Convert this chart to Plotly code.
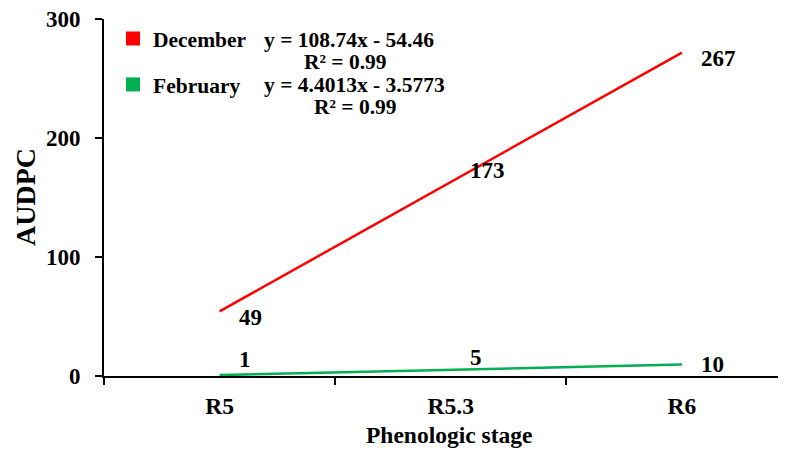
import plotly.graph_objects as go

# ---- data ----
stages = ["R5", "R5.3", "R6"]
dec_values = [49, 173, 267]
feb_values = [1, 5, 10]
dec_trend = [54.3, 163.0, 271.8]
feb_trend = [0.8, 5.2, 9.6]
dec_eq = "y = 108.74x - 54.46"
feb_eq = "y = 4.4013x - 3.5773"
r2_text = "R² = 0.99"
y_ticks = [0, 100, 200, 300]

RED = "#FF0000"
GREEN = "#00B050"
FONT = "Liberation Serif"

OFF = 8  # page body margin
W, H = 786 - OFF, 452 - OFF
L, R, T, B = 104 - OFF, 0, 19 - OFF, 76
PW, PH = W - L - R, H - T - B


def pxx(px):
    return (px - OFF - L) / PW


def pxy(py):
    return (H - B - (py - OFF)) / PH


idx = list(range(len(stages)))

fig = go.Figure()
fig.add_trace(go.Scatter(x=idx, y=dec_trend, mode="lines",
                         line=dict(color=RED, width=2.5), showlegend=False, hoverinfo="skip"))
fig.add_trace(go.Scatter(x=idx, y=feb_trend, mode="lines",
                         line=dict(color=GREEN, width=2.5), showlegend=False, hoverinfo="skip"))
# legend entries
fig.add_trace(go.Scatter(x=[None], y=[None], mode="markers", name="December", legendgroup="a",
                         marker=dict(symbol="square", size=14, color=RED)))
fig.add_trace(go.Scatter(x=[None], y=[None], mode="markers", name="February", legendgroup="b",
                         marker=dict(symbol="square", size=14, color=GREEN)))
# axis for category labels
fig.add_trace(go.Scatter(x=idx, y=[None] * len(idx), xaxis="x2", showlegend=False, hoverinfo="skip"))

annotations = []
bold = lambda s: "<b>" + s + "</b>"

dec_yshift = [0, 0, 0]
feb_yshift = [15, 13, 0]
lblfont = dict(family=FONT, size=23, color="black")
for i, v in enumerate(dec_values):
    annotations.append(dict(x=idx[i], y=v, xref="x", yref="y", text=bold(str(v)),
                            showarrow=False, xanchor="left", yanchor="middle", xshift=17,
                            yshift=dec_yshift[i], font=lblfont))
for i, v in enumerate(feb_values):
    annotations.append(dict(x=idx[i], y=v, xref="x", yref="y", text=bold(str(v)),
                            showarrow=False, xanchor="left", yanchor="middle", xshift=17,
                            yshift=feb_yshift[i], font=lblfont))

# equations
eqfont = dict(family=FONT, size=21.5, color="black")
annotations += [
    dict(x=pxx(262), y=pxy(40), xref="paper", yref="paper", text=bold(dec_eq), showarrow=False,
         xanchor="left", yanchor="middle", font=eqfont),
    dict(x=pxx(345), y=pxy(62), xref="paper", yref="paper", text=bold(r2_text), showarrow=False,
         xanchor="center", yanchor="middle", font=eqfont),
    dict(x=pxx(262), y=pxy(85), xref="paper", yref="paper", text=bold(feb_eq), showarrow=False,
         xanchor="left", yanchor="middle", font=eqfont),
    dict(x=pxx(355), y=pxy(107), xref="paper", yref="paper", text=bold(r2_text), showarrow=False,
         xanchor="center", yanchor="middle", font=eqfont),
    # axis titles
    dict(x=pxx(449), y=pxy(435), xref="paper", yref="paper", text=bold("Phenologic stage"),
         showarrow=False, xanchor="center", yanchor="middle",
         font=dict(family=FONT, size=23.5, color="black")),
    dict(x=pxx(25), y=pxy(197), xref="paper", yref="paper", text=bold("AUDPC"), textangle=-90,
         showarrow=False, xanchor="center", yanchor="middle",
         font=dict(family=FONT, size=28, color="black")),
]

xrange = [-0.5, 2.45]
fig.update_layout(
    width=W, height=H,
    margin=dict(l=L, r=R, t=T, b=B, pad=0),
    paper_bgcolor="white", plot_bgcolor="white",
    font=dict(family=FONT, color="black"),
    showlegend=True,
    legend=dict(x=pxx(113), y=pxy(18), xanchor="left", yanchor="top",
                bgcolor="rgba(0,0,0,0)", tracegroupgap=15, itemwidth=30,
                font=dict(family=FONT, size=21.5, color="black", weight="bold")),
    xaxis=dict(range=xrange, tickmode="array", tickvals=[-0.5, 0.5, 1.5, 2.5],
               ticktext=["", "", "", ""], ticks="outside", ticklen=7, tickwidth=2,
               tickcolor="black", showline=True, linewidth=2, linecolor="black",
               showgrid=False, zeroline=False),
    xaxis2=dict(range=xrange, overlaying="x", side="bottom", tickmode="array",
                tickvals=idx, ticktext=[bold(s) for s in stages], ticks="outside",
                ticklen=9, tickcolor="rgba(0,0,0,0)", showline=False, showgrid=False,
                zeroline=False, tickfont=dict(family=FONT, size=23.5, color="black")),
    yaxis=dict(range=[0, 300], tickmode="array", tickvals=y_ticks,
               ticktext=[bold(str(t)) for t in y_ticks], ticks="outside", ticklen=7,
               tickwidth=2, tickcolor="black", showline=True, linewidth=2, linecolor="black",
               showgrid=False, zeroline=False, ticklabelstandoff=10,
               ticklabeloverflow="allow",
               tickfont=dict(family=FONT, size=23, color="black")),
    annotations=annotations,
)

fig.write_html("out.html")
